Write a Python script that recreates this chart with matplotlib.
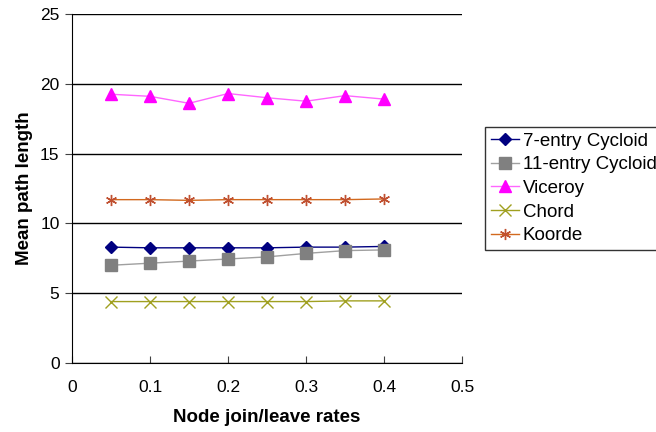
import matplotlib
matplotlib.use("Agg")
import matplotlib.pyplot as plt

plt.rcParams['font.family'] = ['Liberation Sans', 'DejaVu Sans']

rates = [0.05, 0.1, 0.15, 0.2, 0.25, 0.3, 0.35, 0.4]
cycloid7 = [8.3, 8.25, 8.25, 8.25, 8.25, 8.3, 8.3, 8.35]
cycloid11 = [7.0, 7.15, 7.3, 7.45, 7.6, 7.85, 8.05, 8.1]
viceroy = [19.25, 19.1, 18.6, 19.3, 19.0, 18.75, 19.15, 18.9]
chord = [4.4, 4.4, 4.4, 4.4, 4.4, 4.4, 4.45, 4.45]
koorde = [11.7, 11.7, 11.65, 11.7, 11.7, 11.7, 11.7, 11.75]

fig = plt.figure(figsize=(6.56, 4.32), dpi=100)
ax = fig.add_axes([0.1098, 0.1597, 0.5945, 0.808])

ax.plot(rates, cycloid7, color='#000080', marker='D', markersize=6, lw=1, label='7-entry Cycloid')
ax.plot(rates, cycloid11, color='#a0a0a0', marker='s', markersize=8, mfc='#808080', mec='#808080', lw=1, label='11-entry Cycloid')
ax.plot(rates, viceroy, color='#ff66ff', marker='^', markersize=8, mfc='#ff00ff', mec='#ff00ff', lw=1, label='Viceroy')
ax.plot(rates, chord, color='#a0a020', marker='x', markersize=8, mew=1, lw=1, label='Chord')
ax.plot(rates, koorde, color='#d2691e', marker=(6, 2, 0), markersize=8, mew=1, lw=1, mec='#c05030', label='Koorde')

ax.set_xlim(0, 0.5)
ax.set_ylim(0, 25)
ax.set_xticks([0, 0.1, 0.2, 0.3, 0.4, 0.5])
ax.set_xticklabels(['0', '0.1', '0.2', '0.3', '0.4', '0.5'])
ax.set_yticks([0, 5, 10, 15, 20, 25])
ax.yaxis.grid(True, color='black', lw=1)
ax.set_axisbelow(True)
for side in ['top', 'right']:
    ax.spines[side].set_visible(False)
ax.tick_params(labelsize=12.5, length=5, color='#404040')
ax.tick_params(axis='x', direction='in', pad=12)
ax.tick_params(axis='y', direction='out', pad=4)

ax.set_xlabel('Node join/leave rates', fontsize=13.5, fontweight='bold', labelpad=10)
ax.set_ylabel('Mean path length', fontsize=13.5, fontweight='bold', labelpad=5)

ax.legend(loc='center left', bbox_to_anchor=(1.06, 0.5), fontsize=13.5, frameon=True,
          fancybox=False, edgecolor='black', handlelength=1.5, borderpad=0.3,
          labelspacing=0.35, handletextpad=0.2, borderaxespad=0)

fig.savefig('out.png', dpi=100)
